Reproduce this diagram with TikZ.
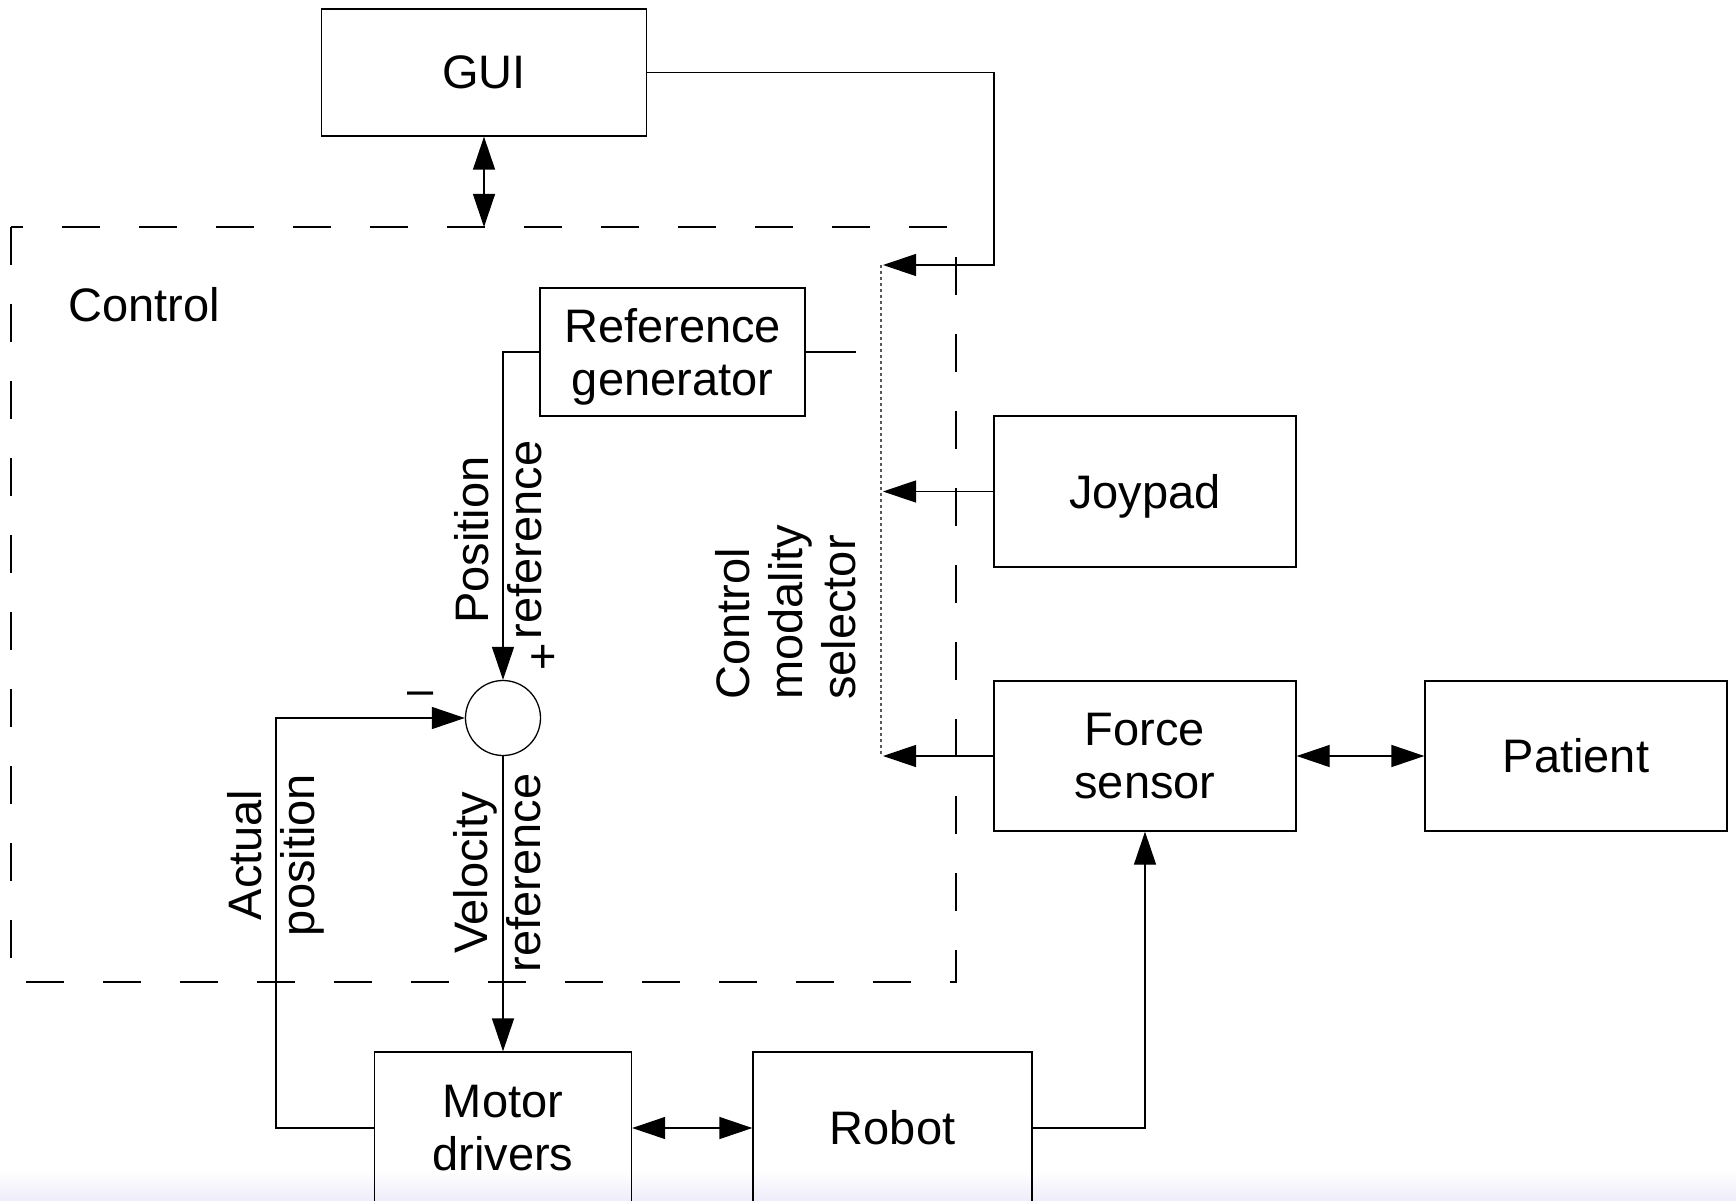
\documentclass[tikz,border=0pt]{standalone}
\usepackage{fontspec}
\setmainfont{Liberation Sans}
\usetikzlibrary{arrows.meta}
\tikzset{
  every node/.style={font=\fontsize{47}{53}\selectfont, inner sep=0pt},
  box/.style={draw, line width=1.3pt, align=center},
  conn/.style={line width=1.3pt},
  arr/.style={-{Triangle[length=33pt,width=22pt]}},
  darr/.style={{Triangle[length=33pt,width=22pt]}-{Triangle[length=33pt,width=22pt]}},
  lbl/.style={rotate=90, align=center},
  ctrlbox/.style={line width=1.3pt, dash pattern=on 38pt off 39pt},
  selline/.style={line width=1.2pt, black!65, dash pattern=on 3pt off 3pt},
}
\begin{document}
\begin{tikzpicture}[x=1pt,y=-1pt]
\useasboundingbox (0,0) rectangle (1736,1201);
\fill[white] (0,0) rectangle (1736,1201);
\shade[top color=white, bottom color={rgb,255:red,238;green,236;blue,250}] (0,1170) rectangle (1736,1201);

% control frame
\draw[ctrlbox] (11,227) rectangle (956,982);
\coordinate (ctrltop) at (484,227);
\node[anchor=base] (ctrllbl) at (144,321) {Control};

% blocks
\node[box, minimum width=325pt, minimum height=127pt] (gui) at (484,72.5) {GUI};
\node[box, text depth=0pt, minimum width=265pt, minimum height=128pt] (ref) at (672.5,352) {Reference\\generator};
\node[box, text depth=0pt, minimum width=302pt, minimum height=151pt] (joy) at (1145,491.5) {Joypad};
\node[box, minimum width=302pt, minimum height=150pt] (force) at (1145,756) {Force\\sensor};
\node[box, minimum width=302pt, minimum height=150pt] (pat) at (1576,756) {Patient};
\node[box, minimum width=257pt, minimum height=152pt] (motor) at (503,1128) {Motor\\drivers};
\node[box, minimum width=279pt, minimum height=152pt] (robot) at (892.5,1128) {Robot};
\node[draw, circle, minimum size=75pt, line width=1.3pt] (sum) at (503,718) {};

% selector
\coordinate (selT) at (881,265);
\coordinate (selB) at (881,756);
\draw[selline] (selT) -- (selB);
\coordinate (selG) at (883,265);
\coordinate (refend) at (856,352);

% connectors
\draw[conn,darr] (gui.south) -- (ctrltop);
\draw[conn,arr] (gui.east) -- (994,72.5) -- (994,265) -- (selG);
\draw[conn,arr] (joy.west) -- (joy.west -| selG);
\draw[conn,arr] (force.west) -- (force.west -| selG);
\draw[conn] (ref.east) -- (refend);
\draw[conn,arr] (ref.west) -| (sum.north);
\draw[conn,arr] (sum.south) -- (motor.north);
\draw[conn,arr] (motor.west) -| (276,718) -- (sum.west);
\draw[conn,darr] (motor.east) -- (robot.west);
\draw[conn,arr] (robot.east) -| (force.south);
\draw[conn,darr] (force.east) -- (pat.west);

% labels
\node[lbl] (posref) at (498,540) {Position\\reference};
\node (plus) at (543,659) {+};
\node (minus) at (421,699) {–};
\node[lbl, align=left, anchor=west] (sel) at (786,700) {Control\\modality\\selector};
\node[lbl] (actpos) at (276,855) {Actual\\position};
\node[lbl] (velref) at (497,873) {Velocity\\reference};
\end{tikzpicture}
\end{document}
